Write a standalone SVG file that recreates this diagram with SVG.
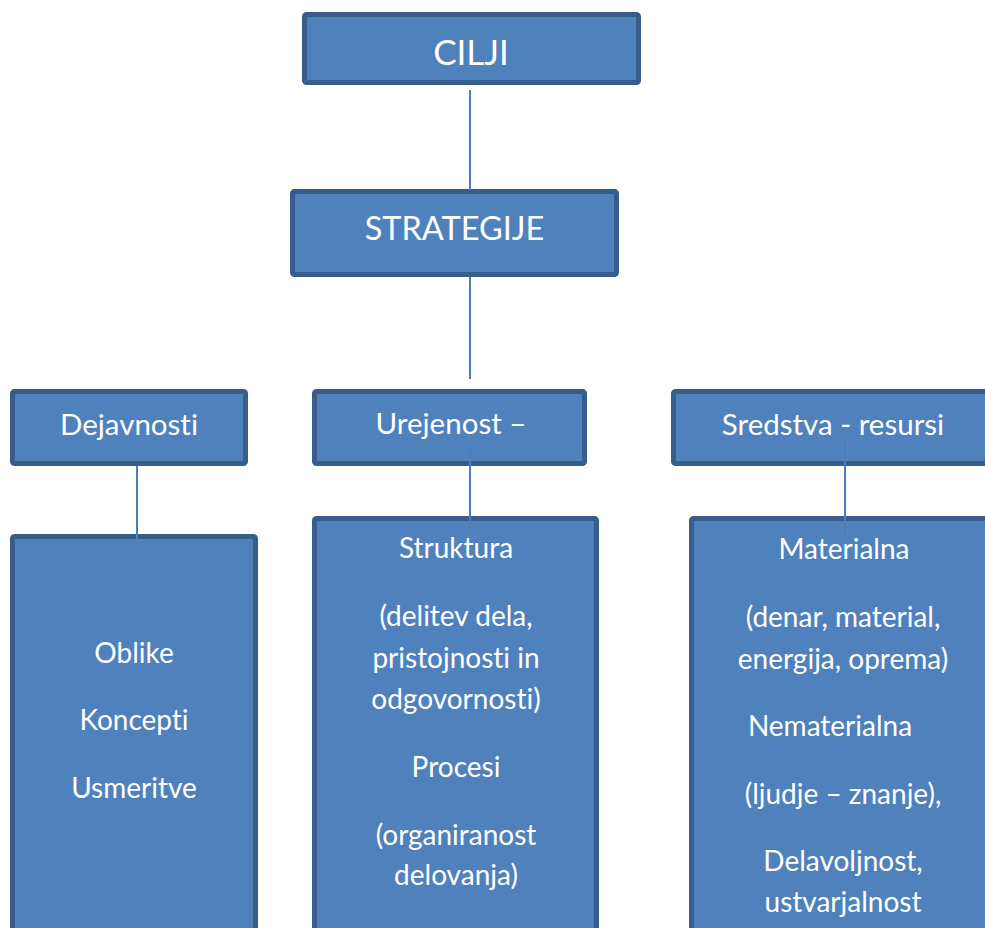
<svg xmlns="http://www.w3.org/2000/svg" width="985" height="928" viewBox="0 0 985 928">
<style>
.box{fill:#4F81BD;stroke:#385D8A;stroke-width:5;}
.t{font-family:Lato,"Open Sans",sans-serif;fill:#FFFFFF;text-anchor:middle;font-variant-ligatures:none;font-feature-settings:"liga" 0,"clig" 0;}
.big{font-size:35px;}
.mid{font-size:32.5px;}
.hd{font-size:29.5px;}
.sm{font-size:28px;}
.conn{stroke:#4A7EBB;stroke-width:2;fill:none;}
</style>
<rect width="985" height="928" fill="#FFFFFF"/>
<g id="cilji"><rect class="box" x="304.5" y="14.5" width="334" height="68" rx="2"/><text class="t big" x="471" y="65">CILJI</text></g>
<g id="strategije"><rect class="box" x="292.5" y="191.5" width="324" height="83" rx="2"/><text class="t mid" x="454.5" y="240">STRATEGIJE</text></g>
<g id="dejavnosti"><rect class="box" x="12.5" y="391.5" width="233" height="72" rx="2"/><text class="t hd" x="129" y="435">Dejavnosti</text></g>
<g id="urejenost"><rect class="box" x="314.5" y="391.5" width="270" height="72" rx="2"/><text class="t hd" x="451" y="434">Urejenost –</text></g>
<g id="sredstva"><rect class="box" x="673.5" y="391.5" width="330" height="72" rx="2"/><text class="t hd" x="833" y="435">Sredstva - resursi</text></g>
<g id="oblike"><rect class="box" x="12.5" y="536.5" width="243" height="400" rx="2"/>
<text class="t sm" x="134" y="663">Oblike</text>
<text class="t sm" x="134" y="730">Koncepti</text>
<text class="t sm" x="134" y="798">Usmeritve</text></g>
<g id="struktura"><rect class="box" x="314.5" y="518.5" width="282" height="420" rx="2"/>
<text class="t sm" x="456" y="558">Struktura</text>
<text class="t sm" x="456" y="626">(delitev dela,</text>
<text class="t sm" x="456" y="668">pristojnosti in</text>
<text class="t sm" x="456" y="709">odgovornosti)</text>
<text class="t sm" x="456" y="777">Procesi</text>
<text class="t sm" x="456" y="845">(organiranost</text>
<text class="t sm" x="456" y="885">delovanja)</text></g>
<g id="materialna"><rect class="box" x="691.5" y="518.5" width="320" height="420" rx="2"/>
<text class="t sm" x="844" y="559">Materialna</text>
<text class="t sm" x="843" y="627">(denar, material,</text>
<text class="t sm" x="843" y="669">energija, oprema)</text>
<text class="t sm" x="830" y="736">Nematerialna</text>
<text class="t sm" x="843" y="804">(ljudje – znanje),</text>
<text class="t sm" x="843" y="871">Delavoljnost,</text>
<text class="t sm" x="843" y="912">ustvarjalnost</text></g>
<g id="connectors">
<line class="conn" x1="470" y1="90" x2="470" y2="190"/>
<line class="conn" x1="470" y1="277" x2="470" y2="379"/>
<line class="conn" x1="137" y1="466" x2="137" y2="540"/>
<line class="conn" x1="470" y1="450" x2="470" y2="530"/>
<line class="conn" x1="845" y1="440" x2="845" y2="535"/>
</g>
</svg>
